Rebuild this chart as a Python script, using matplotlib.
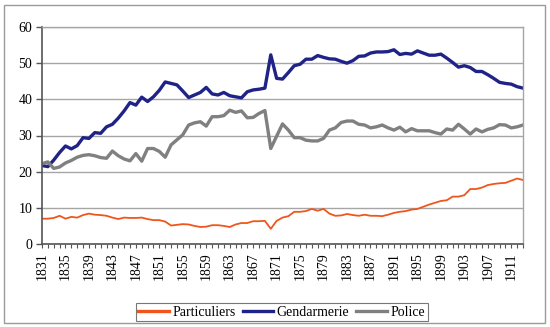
import matplotlib
matplotlib.use("Agg")
import matplotlib.pyplot as plt
from matplotlib.patches import Rectangle
from matplotlib.ticker import MultipleLocator

years = list(range(1831, 1914))

particuliers = [
    7.0, 7.0, 7.2, 7.8, 7.0, 7.5, 7.3, 8.0, 8.4, 8.1,
    8.0, 7.8, 7.3, 6.9, 7.3, 7.2, 7.2, 7.3, 6.9, 6.6,
    6.6, 6.2, 5.1, 5.3, 5.5, 5.4, 5.0, 4.7, 4.8, 5.2,
    5.2, 5.0, 4.7, 5.4, 5.8, 5.8, 6.3, 6.3, 6.4, 4.2,
    6.4, 7.3, 7.7, 8.9, 8.9, 9.1, 9.7, 9.2, 9.7, 8.4,
    7.8, 7.9, 8.3, 8.0, 7.8, 8.1, 7.8, 7.8, 7.7, 8.1,
    8.6, 8.9, 9.1, 9.5, 9.7, 10.3, 10.9, 11.4, 11.9, 12.1,
    13.1, 13.1, 13.5, 15.2, 15.2, 15.6, 16.3, 16.6, 16.8, 16.9,
    17.5, 18.1, 17.7,
]

gendarmerie = [
    21.7, 21.4, 23.2, 25.3, 27.1, 26.3, 27.2, 29.4, 29.2, 30.8,
    30.6, 32.4, 33.1, 34.8, 36.8, 39.1, 38.4, 40.6, 39.4, 40.7,
    42.5, 44.8, 44.4, 44.0, 42.3, 40.5, 41.2, 41.9, 43.3, 41.5,
    41.2, 41.9, 41.0, 40.7, 40.4, 42.1, 42.6, 42.8, 43.1, 52.3,
    45.8, 45.6, 47.4, 49.3, 49.7, 51.1, 51.1, 52.1, 51.6, 51.2,
    51.1, 50.5, 50.0, 50.7, 51.9, 52.0, 52.8, 53.1, 53.1, 53.2,
    53.7, 52.4, 52.7, 52.5, 53.4, 52.8, 52.2, 52.2, 52.5, 51.4,
    50.2, 48.9, 49.3, 48.8, 47.7, 47.7, 46.8, 45.8, 44.7, 44.4,
    44.2, 43.5, 43.1,
]

police = [
    22.2, 22.7, 20.9, 21.3, 22.4, 23.1, 24.0, 24.5, 24.7, 24.4,
    23.9, 23.7, 25.7, 24.4, 23.5, 23.0, 25.0, 22.9, 26.4, 26.4,
    25.6, 24.0, 27.4, 28.8, 30.2, 32.9, 33.5, 33.8, 32.6, 35.2,
    35.2, 35.5, 37.0, 36.4, 36.8, 34.9, 35.0, 36.1, 36.9, 26.4,
    29.8, 33.2, 31.5, 29.4, 29.4, 28.7, 28.5, 28.5, 29.2, 31.5,
    32.1, 33.6, 34.0, 34.0, 33.1, 32.9, 32.1, 32.4, 32.9, 32.1,
    31.5, 32.3, 31.0, 31.9, 31.3, 31.3, 31.3, 30.8, 30.4, 31.8,
    31.5, 33.1, 31.8, 30.4, 31.8, 31.0, 31.7, 32.1, 33.0, 32.9,
    32.1, 32.4, 32.9,
]

label_years = list(range(1831, 1912, 4))
y_ticks = [0, 10, 20, 30, 40, 50, 60]

plt.rcParams["font.family"] = ["Liberation Serif", "DejaVu Serif"]

W, H = 550, 327
fig = plt.figure(figsize=(W / 100, H / 100), dpi=100)
fig.patch.set_facecolor("white")

# outer frame around the whole chart
fig.patches.append(Rectangle((4 / W, 1 - 323 / H), 541 / W, 318 / H,
                             transform=fig.transFigure, fill=False,
                             edgecolor="#9a9a9a", linewidth=1.0))

ax = fig.add_axes([42 / W, 1 - 244 / H, 481 / W, 217 / H])

ax.plot(years, particuliers, color="#F0561C", lw=1.3, label="Particuliers")
ax.plot(years, gendarmerie, color="#1F2388", lw=2.4, label="Gendarmerie")
ax.plot(years, police, color="#808080", lw=2.4, label="Police")

ax.set_xlim(years[0], years[-1])
ax.set_ylim(0, 60)
ax.set_yticks(y_ticks)
ax.set_xticks(label_years)
ax.set_xticklabels([str(y) for y in label_years], rotation=90)
ax.xaxis.set_minor_locator(MultipleLocator(1))

ax.grid(axis="y", color="#a6a6a6", lw=1.0)
ax.set_axisbelow(True)

for side in ("left", "bottom"):
    ax.spines[side].set_color("#555555")
    ax.spines[side].set_linewidth(1.2)
for side in ("right", "top"):
    ax.spines[side].set_color("#a6a6a6")
    ax.spines[side].set_linewidth(1.0)

ax.tick_params(axis="y", which="major", length=4, width=1, color="#555555",
               labelsize=10, pad=3)
ax.tick_params(axis="x", which="both", length=3, width=0.8, color="#555555",
               labelsize=10, pad=3, direction="out")

leg = fig.legend(loc="center", bbox_to_anchor=(0.512, 1 - 312 / H), ncol=3,
                 frameon=True, fancybox=False, fontsize=10,
                 handlelength=2.2, handletextpad=0.25, columnspacing=0.5,
                 borderpad=0.2, borderaxespad=0)
leg.get_frame().set_edgecolor("#555555")
leg.get_frame().set_linewidth(0.8)
for line in leg.get_lines():
    line.set_linewidth(2.4)

fig.savefig("out.png", dpi=100, facecolor="white")
